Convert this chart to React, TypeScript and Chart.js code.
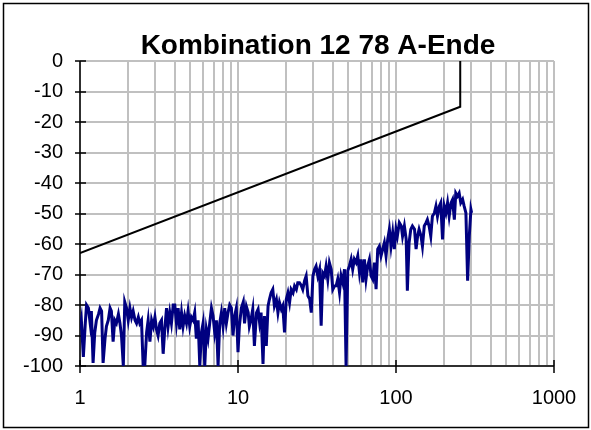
import React, { useEffect, useRef } from 'react';
import { Chart, registerables } from 'chart.js';

Chart.register(...registerables);

const TITLE = 'Kombination 12 78 A-Ende';

// Frequencies (Hz) of the measured trace, one decade per array
const FREQ_1_10 = [
  1, 1.02, 1.05, 1.08, 1.10, 1.13, 1.16, 1.18, 1.21, 1.24,
  1.27, 1.31, 1.34, 1.37, 1.40, 1.44, 1.47, 1.51, 1.55, 1.58,
  1.62, 1.66, 1.70, 1.75, 1.79, 1.83, 1.88, 1.92, 1.97, 2.02,
  2.07, 2.12, 2.17, 2.23, 2.28, 2.34, 2.39, 2.45, 2.51, 2.57,
  2.64, 2.70, 2.77, 2.84, 2.91, 2.98, 3.05, 3.12, 3.20, 3.28,
  3.36, 3.44, 3.53, 3.61, 3.70, 3.79, 3.89, 3.98, 4.08, 4.18,
  4.28, 4.39, 4.49, 4.60, 4.72, 4.83, 4.95, 5.07, 5.20, 5.32,
  5.45, 5.59, 5.73, 5.87, 6.01, 6.16, 6.31, 6.46, 6.62, 6.79,
  6.95, 7.12, 7.30, 7.48, 7.66, 7.85, 8.04, 8.24, 8.44, 8.65,
  8.86, 9.08, 9.30, 9.53, 9.76,
];
const FREQ_10_100 = [
  10, 10.2, 10.5, 10.8, 11.0, 11.3, 11.6, 11.8, 12.1, 12.4,
  12.7, 13.1, 13.4, 13.7, 14.0, 14.4, 14.7, 15.1, 15.5, 15.8,
  16.2, 16.6, 17.0, 17.5, 17.9, 18.3, 18.8, 19.2, 19.7, 20.2,
  20.7, 21.2, 21.7, 22.3, 22.8, 23.4, 23.9, 24.5, 25.1, 25.7,
  26.4, 27.0, 27.7, 28.4, 29.1, 29.8, 30.5, 31.2, 32.0, 32.8,
  33.6, 34.4, 35.3, 36.1, 37.0, 37.9, 38.9, 39.8, 40.8, 41.8,
  42.8, 43.9, 44.9, 46.0, 47.2, 48.3, 49.5, 50.7, 52.0, 53.2,
  54.5, 55.9, 57.3, 58.7, 60.1, 61.6, 63.1, 64.6, 66.2, 67.9,
  69.5, 71.2, 73.0, 74.8, 76.6, 78.5, 80.4, 82.4, 84.4, 86.5,
  88.6, 90.8, 93.0, 95.3, 97.6,
];
const FREQ_100_300 = [
  100, 102, 105, 108, 110, 113, 116, 118, 121, 124,
  127, 131, 134, 137, 140, 144, 147, 151, 155, 158,
  162, 166, 170, 175, 179, 183, 188, 192, 197, 202,
  207, 212, 217, 223, 228, 234, 239, 245, 251, 257,
  264, 270, 277, 284, 291, 298, 301,
];

// Measured level (dB) at those frequencies
const LEVEL_1_10 = [
  -88, -85, -97, -86, -80, -81, -86, -82, -99, -89,
  -85, -83, -81, -82, -99, -91, -87, -85, -81, -82,
  -92, -85, -86, -83, -86, -90, -100, -79, -81, -85,
  -81, -84, -82, -85, -86, -84, -86, -85, -100, -100,
  -89, -85, -92, -85, -87, -84, -88, -90, -86, -85,
  -96, -88, -81, -87, -82.5, -86, -80, -80, -86, -81,
  -88, -82.5, -87, -83.5, -86, -82, -87, -84, -85, -82.5,
  -91, -85, -100, -89, -86, -100, -88, -91, -86, -81,
  -83.5, -89, -85, -100, -86, -82.5, -87, -81, -86, -82.5,
  -80, -81, -90, -83.5, -81,
];
const LEVEL_10_100 = [
  -95.5, -87, -81, -79, -86, -80.5, -82.5, -87, -84.7, -81.4,
  -93.4, -82.5, -81.4, -85.8, -82.5, -99.3, -83.6, -93.4, -80.3, -78.2,
  -76, -74.9, -80.3, -78.2, -82.5, -79.2, -81.4, -80.3, -89, -78.2,
  -76, -79.2, -74.9, -76, -73.8, -74.9, -72.7, -72.7, -73.5, -74.9,
  -72, -70.5, -77, -78, -82.5, -70.5, -68.4, -67.3, -70.5, -68.4,
  -86.8, -69.5, -70.5, -67.3, -71.6, -66.2, -68.4, -74.9, -73.8, -73.7,
  -71.5, -75.9, -70.4, -72.6, -68.3, -100, -68.8, -67.2, -65, -68.3,
  -65, -66.1, -63.9, -69.3, -65, -72.6, -65, -71.5, -67.2, -65,
  -70.4, -71.5, -66.1, -74.8, -61.7, -60.7, -63.9, -61.7, -59.6, -63.9,
  -58.5, -55.2, -60.7, -56.3, -61.7,
];
const LEVEL_100_300 = [
  -55.2, -57.4, -53, -54.1, -57.4, -54.1, -58.5, -75.3, -59.6, -55.2,
  -54.1, -55.2, -61.7, -57.4, -55.2, -57.4, -60.7, -54.1, -53, -52,
  -54.1, -57.4, -50.9, -49.8, -47.6, -50.9, -47.6, -46.5, -58.5, -47.6,
  -49.8, -46.5, -50.9, -46.5, -45.4, -52, -43.3, -44.3, -43.3, -46.5,
  -45.4, -47.6, -49.8, -72, -57.4, -48.7, -49.8,
];

// Limit line
const LIMIT_FREQ = [1, 255, 255];
const LIMIT_DB = [-63, -15, 0];

// Axes
const X_GRID = [
  1, 2, 3, 4, 5, 6, 7, 8, 9,
  10, 20, 30, 40, 50, 60, 70, 80, 90,
  100, 200, 300, 400, 500, 600, 700, 800, 900, 1000,
];
const X_LABELS = [1, 10, 100, 1000];
const Y_TICKS = [-100, -90, -80, -70, -60, -50, -40, -30, -20, -10, 0];

const FONT = "'Liberation Sans', Arial, Helvetica, sans-serif";

export default function App() {
  const ref = useRef<HTMLCanvasElement>(null);

  useEffect(() => {
    const canvas = ref.current;
    if (!canvas) return;
    const freq = [...FREQ_1_10, ...FREQ_10_100, ...FREQ_100_300];
    const level = [...LEVEL_1_10, ...LEVEL_10_100, ...LEVEL_100_300];
    const tracePts = freq.map((f, i) => ({ x: f, y: level[i] }));
    const limitPts = LIMIT_FREQ.map((f, i) => ({ x: f, y: LIMIT_DB[i] }));

    const frame = {
      id: 'frame',
      beforeDraw(chart: any) {
        const c = chart.ctx;
        c.save();
        c.fillStyle = '#ffffff';
        c.fillRect(0, 0, chart.width, chart.height);
        c.restore();
      },
      beforeDatasetsDraw(chart: any) {
        const c = chart.ctx;
        const a = chart.chartArea;
        const xs = chart.scales.x;
        const ys = chart.scales.y;
        c.save();
        c.strokeStyle = '#000000';
        c.lineWidth = 1.5;
        c.beginPath();
        c.moveTo(a.left, a.top);
        c.lineTo(a.left, a.bottom);
        c.lineTo(a.right, a.bottom);
        c.stroke();
        c.beginPath();
        Y_TICKS.forEach((v) => {
          const y = Math.round(ys.getPixelForValue(v));
          c.moveTo(a.left - 5, y);
          c.lineTo(a.left + 6, y);
        });
        X_LABELS.forEach((v) => {
          const x = Math.round(xs.getPixelForValue(v));
          c.moveTo(x, a.bottom - 6);
          c.lineTo(x, a.bottom + 7);
        });
        c.stroke();
        c.restore();
      },
      afterDraw(chart: any) {
        const c = chart.ctx;
        const a = chart.chartArea;
        c.save();
        c.strokeStyle = '#000000';
        c.lineWidth = 1.5;
        c.strokeRect(3.5, 3.5, 585, 424);
        c.fillStyle = '#000000';
        c.font = `bold 28px ${FONT}`;
        c.textAlign = 'center';
        c.textBaseline = 'alphabetic';
        c.fillText(TITLE, (a.left + a.right) / 2 + 1, 54);
        c.restore();
      },
    };

    const chart = new Chart(canvas, {
      type: 'scatter',
      data: {
        datasets: [
          {
            data: tracePts,
            showLine: true,
            borderColor: '#000080',
            backgroundColor: '#000080',
            borderWidth: 3,
            pointRadius: 0,
            tension: 0,
          },
          {
            data: limitPts,
            showLine: true,
            borderColor: '#000000',
            backgroundColor: '#000000',
            borderWidth: 2,
            pointRadius: 0,
            tension: 0,
          },
        ],
      },
      options: {
        responsive: false,
        animation: false,
        devicePixelRatio: 1,
        layout: { padding: { left: 0, top: 61, right: 37, bottom: 0 } },
        plugins: {
          legend: { display: false },
          title: { display: false },
          tooltip: { enabled: false },
        },
        scales: {
          x: {
            type: 'logarithmic',
            min: 1,
            max: 1000,
            afterBuildTicks: (s: any) => {
              s.ticks = X_GRID.map((v) => ({ value: v }));
            },
            afterFit: (s: any) => {
              s.height = 64;
              s.paddingLeft = 0;
              s.paddingRight = 0;
            },
            ticks: {
              autoSkip: false,
              maxRotation: 0,
              minRotation: 0,
              padding: 20,
              color: '#000000',
              font: { family: FONT, size: 20 },
              callback: (v: any) => (X_LABELS.includes(Number(v)) ? String(v) : ''),
            },
            grid: { color: '#c0c0c0', lineWidth: 2, drawTicks: false },
            border: { display: false },
          },
          y: {
            type: 'linear',
            min: -100,
            max: 0,
            afterBuildTicks: (s: any) => {
              s.ticks = Y_TICKS.map((v) => ({ value: v }));
            },
            afterFit: (s: any) => {
              s.width = 80;
              s.paddingTop = 0;
              s.paddingBottom = 0;
            },
            ticks: {
              padding: 17,
              color: '#000000',
              font: { family: FONT, size: 20 },
              callback: (v: any) => String(v),
            },
            grid: { color: '#c0c0c0', lineWidth: 2, drawTicks: false },
            border: { display: false },
          },
        },
      },
      plugins: [frame],
    } as any);

    return () => chart.destroy();
  }, []);

  return (
    <div style={{ position: 'fixed', left: 0, top: 0, width: 591, height: 430, background: '#ffffff' }}>
      <canvas ref={ref} width={591} height={430} style={{ display: 'block', width: 591, height: 430 }} />
    </div>
  );
}
